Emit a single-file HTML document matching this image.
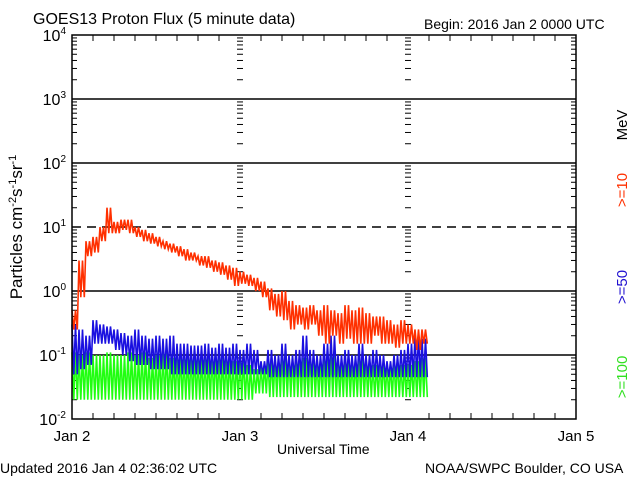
<!DOCTYPE html>
<html><head><meta charset="utf-8"><style>
body{margin:0;background:#fff;width:640px;height:480px;overflow:hidden}
svg text{font-family:"Liberation Sans",sans-serif;fill:#000}
</style></head><body>
<svg id="c" width="640" height="480" xmlns="http://www.w3.org/2000/svg">
<text x="33" y="24" font-size="16">GOES13 Proton Flux (5 minute data)</text>
<text x="424" y="29" font-size="14">Begin: 2016 Jan 2 0000 UTC</text>
<text x="0" y="473" font-size="14">Updated 2016 Jan  4 02:36:02 UTC</text>
<text x="425" y="473" font-size="14">NOAA/SWPC Boulder, CO USA</text>
<text x="277" y="454" font-size="14">Universal Time</text>
<text transform="translate(22,227) rotate(-90)" text-anchor="middle" font-size="17">Particles cm<tspan dy="-6" font-size="11">-2</tspan><tspan dy="6">s</tspan><tspan dy="-6" font-size="11">-1</tspan><tspan dy="6">sr</tspan><tspan dy="-6" font-size="11">-1</tspan></text>
<text transform="translate(627,125) rotate(-90)" text-anchor="middle" font-size="15">MeV</text>
<text transform="translate(627,190) rotate(-90)" text-anchor="middle" font-size="15" style="fill:#ff3000">&gt;=10</text>
<text transform="translate(627,287) rotate(-90)" text-anchor="middle" font-size="15" style="fill:#2010d0">&gt;=50</text>
<text transform="translate(627,377) rotate(-90)" text-anchor="middle" font-size="15" style="fill:#30e020">&gt;=100</text>
<g id="plot"></g>
</svg>
<script>
const decades=[4,3,2,1,0,-1,-2];
const dayLabels=["Jan 2","Jan 3","Jan 4","Jan 5"];
const redHi=[0.5,3,6,7,10,20,12,13,13,10,9,8,7,6,5.5,5,4.5,4,3.5,3.5,3,2.8,2.5,2.3,2,1.8,1.6,1.4,1.1,0.9,1,0.7,0.6,0.55,0.6,0.5,0.6,0.5,0.45,0.6,0.5,0.55,0.45,0.4,0.4,0.35,0.3,0.35,0.3,0.25,0.25];
const redLo=[0.25,0.8,3.5,4,6,8,8,9,8,7,6,5.5,5,4.5,4,3.5,3,3,2.5,2.3,2,1.8,1.5,1.2,1.3,1.2,1,0.8,0.5,0.4,0.35,0.25,0.3,0.25,0.3,0.2,0.15,0.2,0.15,0.18,0.15,0.15,0.15,0.2,0.15,0.15,0.13,0.15,0.15,0.12,0.15];
const blueHi=[0.3,0.25,0.2,0.35,0.3,0.28,0.25,0.22,0.2,0.25,0.2,0.18,0.2,0.18,0.2,0.15,0.15,0.14,0.14,0.15,0.13,0.15,0.13,0.15,0.12,0.15,0.12,0.08,0.12,0.1,0.15,0.1,0.12,0.2,0.12,0.1,0.15,0.2,0.1,0.12,0.1,0.15,0.1,0.12,0.1,0.08,0.1,0.12,0.15,0.2,0.18];
const blueLo=[0.05,0.06,0.07,0.15,0.15,0.15,0.12,0.1,0.08,0.07,0.07,0.06,0.06,0.06,0.05,0.05,0.05,0.05,0.05,0.05,0.05,0.05,0.05,0.05,0.05,0.05,0.05,0.05,0.045,0.045,0.045,0.045,0.045,0.045,0.045,0.045,0.045,0.045,0.045,0.045,0.045,0.045,0.045,0.045,0.045,0.045,0.045,0.045,0.045,0.045,0.045];
const greenHi=[0.11,0.1,0.11,0.1,0.1,0.11,0.1,0.1,0.11,0.1,0.11,0.09,0.1,0.11,0.09,0.1,0.09,0.1,0.09,0.09,0.1,0.09,0.09,0.08,0.09,0.07,0.06,0.07,0.08,0.09,0.1,0.09,0.1,0.09,0.1,0.08,0.09,0.1,0.08,0.09,0.08,0.09,0.08,0.07,0.08,0.07,0.08,0.07,0.07,0.08,0.09];
const greenLo=[0.02,0.02,0.02,0.02,0.02,0.02,0.02,0.02,0.02,0.02,0.02,0.02,0.02,0.02,0.02,0.02,0.02,0.02,0.02,0.02,0.02,0.02,0.02,0.02,0.02,0.02,0.025,0.025,0.022,0.022,0.022,0.022,0.022,0.022,0.022,0.022,0.022,0.022,0.022,0.022,0.022,0.022,0.022,0.022,0.022,0.022,0.022,0.022,0.022,0.022,0.022];

const L=72,T=35,R=576,B=419,PD=64,PX=168;
const y=v=>T+(4-Math.log10(v))*PD;
const x=h=>L+h/24*PX;
const g=document.getElementById('plot');
const NS='http://www.w3.org/2000/svg';
function el(t,a){const e=document.createElementNS(NS,t);for(const k in a)e.setAttribute(k,a[k]);g.appendChild(e);return e;}
decades.forEach(d=>{
  const yy=T+(4-d)*PD;
  if(d<4&&d>-2){const ln=el('line',{x1:L,x2:R,y1:yy,y2:yy,stroke:'#000','stroke-width':1.5});
    if(d===1)ln.setAttribute('stroke-dasharray','9,6');
    
    }
  const t=el('text',{x:66,y:yy+6,'text-anchor':'end','font-size':16});
  t.innerHTML='10<tspan dy="-7" font-size="10">'+d+'</tspan>';
  
  
  if(d>-2){for(let m=2;m<=9;m++){const my=yy+Math.log10(10/m)*PD;
    [[L,L+5],[R-5,R],[237,243],[405,411]].forEach(p=>{const tk=el('line',{x1:p[0],x2:p[1],y1:my,y2:my,stroke:'#000'});
      
      });}}
});
for(let h=0;h<=72;h+=3){const xx=x(h),big=h%24===0?0:1;
  const a=el('line',{x1:xx,x2:xx,y1:B,y2:B-(big?6:0),stroke:'#000'});
  
  
  const b=el('line',{x1:xx,x2:xx,y1:T,y2:T+(big?6:0),stroke:'#000'});
  
  }
dayLabels.forEach((s,i)=>{const t=el('text',{x:x(i*24),y:441,'text-anchor':'middle','font-size':15});t.textContent=s;
  
  });
function series(hi,lo,col,name){let pts=[];
  for(let i=0;i<hi.length;i++){for(let k=0;k<4;k++){const h=i+k/4;const v=(k%2===0)?hi[i]:lo[i];
    pts.push(x(h).toFixed(1)+','+y(v).toFixed(1));}}
  const p=el('polyline',{points:pts.join(' '),fill:'none',stroke:col,'stroke-width':1.6});
  
  }
series(greenHi,greenLo,'#20ff10','series-100mev');
series(blueHi,blueLo,'#1a10e0','series-50mev');
series(redHi,redLo,'#ff3000','series-10mev');
const fr=el('rect',{x:L,y:T,width:R-L,height:B-T,fill:'none',stroke:'#000','stroke-width':1.5});


</script>
</body></html>
